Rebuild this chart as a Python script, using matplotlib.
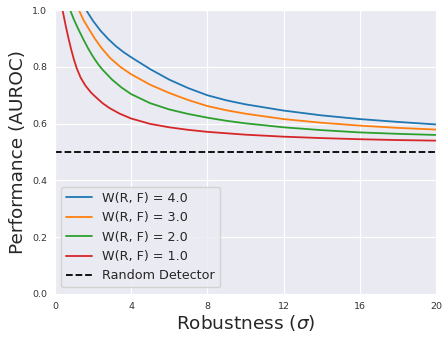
import matplotlib
matplotlib.use("Agg")
import matplotlib.pyplot as plt
import seaborn as sns

# values (robustness sigma -> AUROC)
x_w4 = [1.64, 2.0, 2.4, 2.8, 3.2, 3.6, 4.0, 5.0, 6.0, 7.0, 8.0, 9.0, 10.0, 12.0, 14.0, 16.0, 18.0, 20.0]
y_w4 = [1.000, 0.962, 0.927, 0.898, 0.873, 0.852, 0.834, 0.792, 0.755, 0.725, 0.700, 0.682, 0.668,
        0.646, 0.629, 0.616, 0.606, 0.597]

x_w3 = [1.26, 1.5, 1.75, 2.1, 2.45, 2.9, 3.45, 4.0, 5.0, 6.0, 7.0, 8.0, 9.0, 10.0, 12.0, 14.0, 16.0, 18.0, 20.0]
y_w3 = [1.000, 0.965, 0.937, 0.899, 0.866, 0.831, 0.799, 0.774, 0.737, 0.708, 0.683, 0.662, 0.647,
        0.635, 0.616, 0.603, 0.593, 0.585, 0.579]

x_w2 = [0.8, 1.0, 1.22, 1.5, 1.75, 2.0, 2.25, 2.5, 3.0, 3.5, 4.0, 5.0, 6.0, 7.0, 8.0, 9.0, 10.0,
        12.0, 14.0, 16.0, 18.0, 20.0]
y_w2 = [1.000, 0.966, 0.934, 0.896, 0.864, 0.836, 0.811, 0.790, 0.755, 0.727, 0.704, 0.672, 0.650,
        0.634, 0.621, 0.610, 0.601, 0.587, 0.577, 0.569, 0.564, 0.560]

x_w1 = [0.4, 0.55, 0.7, 0.85, 1.0, 1.15, 1.35, 1.6, 1.9, 2.2, 2.5, 2.86, 3.4, 4.0, 5.0, 6.0, 7.0,
        8.0, 9.0, 10.0, 12.0, 14.0, 16.0, 18.0, 20.0]
y_w1 = [1.000, 0.950, 0.904, 0.862, 0.825, 0.794, 0.762, 0.734, 0.709, 0.690, 0.672, 0.655, 0.635,
        0.618, 0.599, 0.587, 0.578, 0.571, 0.566, 0.561, 0.554, 0.549, 0.545, 0.542, 0.540]

random_auroc = 0.5
series = [("W(R, F) = 4.0", x_w4, y_w4, "#1f77b4"),
          ("W(R, F) = 3.0", x_w3, y_w3, "#ff7f0e"),
          ("W(R, F) = 2.0", x_w2, y_w2, "#2ca02c"),
          ("W(R, F) = 1.0", x_w1, y_w1, "#d62728")]

sns.set_style("darkgrid")
plt.rcParams["font.family"] = ["DejaVu Sans"]

fig = plt.figure(figsize=(4.43, 3.37), dpi=100)
ax = fig.add_axes([0.124, 0.128, 0.86, 0.842])

for label, xs, ys, c in series:
    ax.plot(xs, ys, color=c, lw=1.3, label=label)
ax.axhline(random_auroc, color="black", ls="--", lw=1.3, label="Random Detector")

ax.set_xlim(0, 20)
ax.set_ylim(0, 1.0)
ax.set_xticks([0, 4, 8, 12, 16, 20])
ax.set_yticks([0.0, 0.2, 0.4, 0.6, 0.8, 1.0])
ax.tick_params(labelsize=6.8, colors="#333333", pad=2)
ax.set_xlabel(r"Robustness ($\sigma$)", fontsize=13.3, labelpad=2)
ax.set_ylabel("Performance (AUROC)", fontsize=13.3, labelpad=4)
ax.legend(loc="lower left", fontsize=9.2, framealpha=0.8, borderaxespad=0.5)

fig.savefig("out.png", dpi=100)
